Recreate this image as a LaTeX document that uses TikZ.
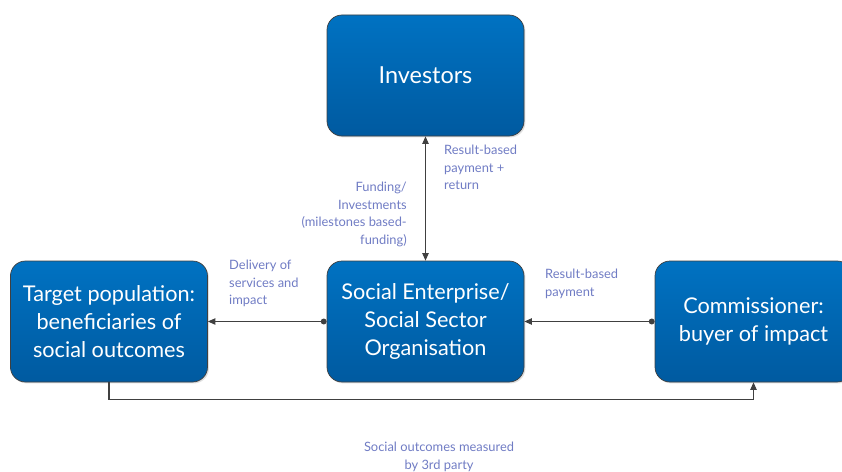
\documentclass[tikz,border=0pt]{standalone}
\usepackage{fontspec}
\setmainfont{Lato}
\usetikzlibrary{arrows.meta,shadows}
\definecolor{boxTop}{RGB}{0,114,194}
\definecolor{boxBot}{RGB}{0,90,160}
\definecolor{lineC}{RGB}{64,64,64}
\definecolor{labelC}{RGB}{112,124,196}
\begin{document}
\begin{tikzpicture}[x=0.03cm, y=-0.03cm, line cap=round,
  box/.style={draw=lineC, line width=0.6pt, rounded corners=0.45cm,
    top color=boxTop, bottom color=boxBot, minimum width=5.91cm, minimum height=3.63cm,
    align=center, text=white, font=\fontsize{18.5}{24}\selectfont,
    drop shadow={opacity=0.25, shadow xshift=1.2pt, shadow yshift=-1.2pt}},
  lbl/.style={text=labelC, inner sep=0pt, font=\fontsize{11}{15}\selectfont},
  conn/.style={draw=lineC, line width=1pt}]
\useasboundingbox (0,0) rectangle (842,471);
% ---------- 方框 ----------
\node[box, font=\fontsize{20}{24}\selectfont] (inv) at (425.5,75.5) {Investors};
\node[box] (tp) at (109,321.5) {Target population:\\beneficiaries of\\social outcomes};
\node[box] (se) at (425.5,321.5) {Social Enterprise/\\Social Sector\\Organisation};
\node[box] (com) at (753.5,321.5) {Commissioner:\\buyer of impact};
% ---------- 连线 ----------
\draw[conn, {Triangle[length=6.5pt,width=5.5pt]}-{Triangle[length=6.5pt,width=5.5pt]}] (inv.south) -- (se.north);
\draw[conn, {Circle[length=5pt]}-{Triangle[length=6.5pt,width=5.5pt]}] (se.west) -- (tp.east);
\draw[conn, {Circle[length=5pt]}-{Triangle[length=6.5pt,width=5.5pt]}] (com.west) -- (se.east);
\draw[conn, -{Triangle[length=6.5pt,width=5.5pt]}] (tp.south) -- ++(0,17) -| (com.south);
% ---------- 标签 ----------
\node[lbl, anchor=north west, align=left] (lblret) at (444,145) {Result-based\\payment +\\return};
\node[lbl, anchor=north east, align=right] (lblfund) at (407,182) {Funding/\\Investments\\(milestones based-\\funding)};
\node[lbl, anchor=north west, align=left] (lbldel) at (229,260) {Delivery of\\services and\\impact};
\node[lbl, anchor=north west, align=left] (lblpay) at (545,269) {Result-based\\payment};
\node[lbl, anchor=north, align=center] (lblmeas) at (439,442) {Social outcomes measured\\by 3rd party};
\end{tikzpicture}
\end{document}
